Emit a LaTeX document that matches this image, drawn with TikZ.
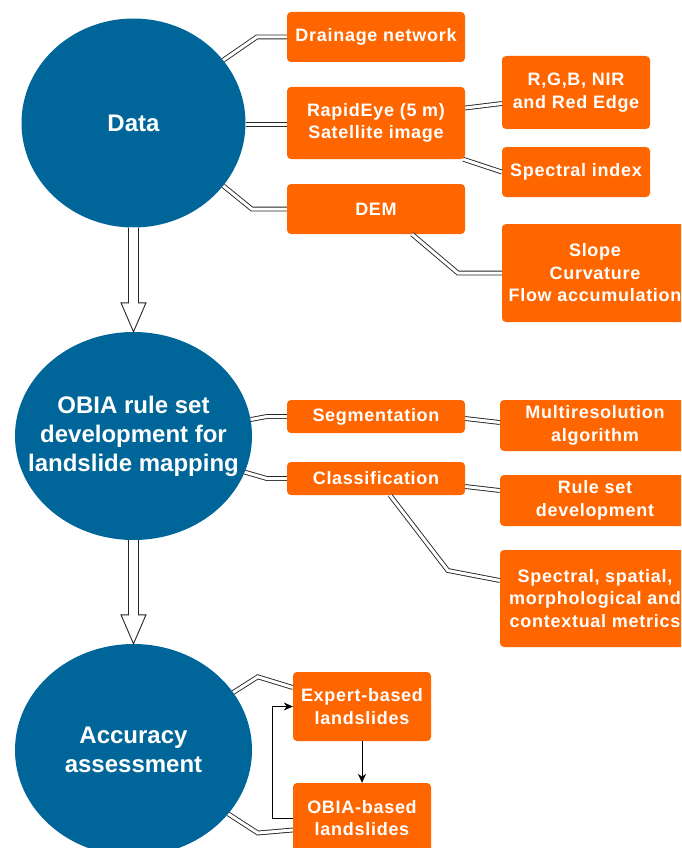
\documentclass[tikz,border=0pt]{standalone}
\usepackage{fontspec}
\setmainfont{Liberation Sans}
\newfontfamily\boxfont[LetterSpace=4]{Liberation Sans}
\usetikzlibrary{positioning,calc,shapes.geometric,arrows.meta}
\definecolor{stageblue}{HTML}{006699}
\definecolor{boxorange}{HTML}{FF6600}
\tikzstyle{stagenode} = [ellipse, fill=stageblue, inner sep=0pt]
\tikzstyle{stagetext} = [text=white, font=\fontsize{24}{29}\selectfont\bfseries, align=center]
\tikzstyle{itembox} = [rectangle, rounded corners=4pt, fill=boxorange, text=white, font=\boxfont\fontsize{18}{22.5}\selectfont\bfseries, align=center, inner sep=0pt]
\tikzstyle{dlink} = [draw=black!85, line width=0.9pt, double=white, double distance=3pt]
\tikzstyle{hollow} = [draw=black!85, line width=0.9pt, fill=white]
\tikzstyle{flow} = [semithick,->,>={Stealth[length=9pt,width=8pt]}]

\begin{document}
\begin{tikzpicture}[x=1pt,y=-1pt]
    \useasboundingbox (0,0) rectangle (681,848);
    \clip (0,0) rectangle (681,848);

    % main stages
    \node (data) [stagenode, minimum width=224pt, minimum height=209pt, label={[stagetext]center:Data}] at (133.5,123) {};
    \node (obia) [stagenode, minimum width=237pt, minimum height=208pt, label={[stagetext]center:OBIA rule set\\development for\\landslide mapping}] at (133.5,436) {};
    \node (acc) [stagenode, minimum width=237pt, minimum height=212pt, label={[stagetext]center:Accuracy\\assessment}] at (133.5,750) {};

    \draw [hollow] ($(data.south)+(-5,0)$) -- ($(obia.north)+(-5,-29)$) -- ($(obia.north)+(-12.5,-29)$) -- (obia.north) -- ($(obia.north)+(12.5,-29)$) -- ($(obia.north)+(5,-29)$) -- ($(data.south)+(5,0)$);
    \draw [hollow] ($(obia.south)+(-5,0)$) -- ($(acc.north)+(-5,-29)$) -- ($(acc.north)+(-12.5,-29)$) -- (acc.north) -- ($(acc.north)+(12.5,-29)$) -- ($(acc.north)+(5,-29)$) -- ($(obia.south)+(5,0)$);

    % data inputs
    \node (drain) [itembox, minimum width=178pt, minimum height=50pt] at (376,37) {Drainage network};
    \draw [dlink] (data.35) -- ($(drain.west)+(-30,0)$) -- (drain.west);

    \node (rapid) [itembox, minimum width=178pt, minimum height=72pt] at (376,123) {RapidEye (5 m)\\Satellite image};
    \draw [dlink] ($(data.east)+(0,1.3)$) -- ($(rapid.west)+(0,1.3)$);

    \node (dem) [itembox, minimum width=178pt, minimum height=50pt] at (376,209) {DEM};
    \draw [dlink] (data.-35) -- ($(dem.west)+(-35,0)$) -- (dem.west);

    \node (rgb) [itembox, minimum width=148pt, minimum height=73pt] at (576,92.5) {R,G,B, NIR\\and Red Edge};
    \draw [dlink] ($(rapid.east)+(0,-15)$) -- ($(rgb.west)+(0,11)$);

    \node (index) [itembox, minimum width=148pt, minimum height=50pt] at (576,172) {Spectral index};
    \draw [dlink] ($(rapid.south east)+(-2,0)$) -- (index.west);

    \node (terrain) [itembox, minimum width=186pt, minimum height=98pt] at (595,273) {Slope\\Curvature\\Flow accumulation};
    \draw [dlink] ($(dem.south)+(36,0)$) -- ($(terrain.west)+(-44,0)$) -- (terrain.west);

    % rule set steps
    \node (seg) [itembox, minimum width=178pt, minimum height=33pt] at (376,416.5) {Segmentation};
    \draw [dlink] (obia.8) -- ($(seg.west)+(-20,0)$) -- (seg.west);

    \node (cls) [itembox, minimum width=178pt, minimum height=33pt] at (376,478.5) {Classification};
    \draw [dlink] (obia.-18) -- ($(cls.west)+(-20,0)$) -- (cls.west);

    \node (mra) [itembox, minimum width=190pt, minimum height=51pt] at (595,425.5) {Multiresolution\\algorithm};
    \draw [dlink] ($(seg.east)+(0,2)$) -- ($(mra.west)+(0,-3)$);

    \node (rules) [itembox, minimum width=190pt, minimum height=51pt] at (595,500.5) {Rule set\\development};
    \draw [dlink] ($(cls.east)+(0,8)$) -- ($(rules.west)+(0,-10)$);

    \node (metrics) [itembox, minimum width=190pt, minimum height=97pt] at (595,598.5) {Spectral, spatial,\\morphological and\\contextual metrics};
    \draw [dlink] ($(cls.south)+(14,0)$) -- ($(metrics.west)+(-52,-28)$) -- ($(metrics.west)+(0,-18)$);

    % assessment
    \node (expert) [itembox, minimum width=138pt, minimum height=69pt] at (362,706.5) {Expert-based\\landslides};
    \draw [dlink] (acc.30) -- ($(expert.north west)+(-35,5)$) -- ($(expert.west)+(0,-19)$);

    \node (auto) [itembox, minimum width=138pt, minimum height=70pt] at (362,818) {OBIA-based\\landslides};
    \draw [dlink] (acc.-34) -- ($(auto.west)+(-35,15)$) -- ($(auto.west)+(0,12)$);

    \draw [flow] (expert.south) -- (auto.north);
    \draw [flow] (auto.west) -- ++(-21,0) |- (expert.west);
\end{tikzpicture}
\end{document}
